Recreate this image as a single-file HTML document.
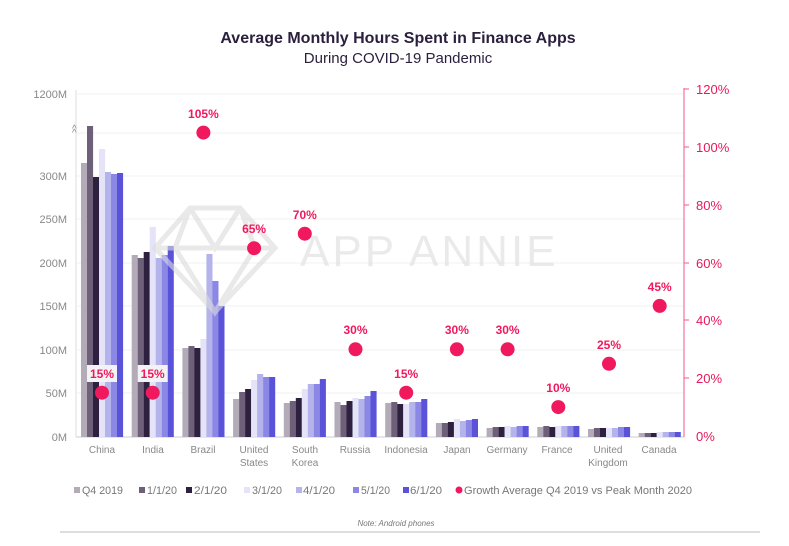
<!DOCTYPE html>
<html><head><meta charset="utf-8"><style>
body{margin:0;background:#fff;}
svg{display:block;font-family:"Liberation Sans",sans-serif;}
.c0{fill:#b3abb8}.c1{fill:#6e6079}.c2{fill:#2e2140}.c3{fill:#e4e3f7}.c4{fill:#b5b3ec}.c5{fill:#8b87e4}.c6{fill:#5a53d9}
.p{fill:#f0195e}
.pl{fill:#f0195e;font-size:12px;font-weight:bold;text-anchor:middle}
</style></head><body>
<svg width="789" height="546" viewBox="0 0 789 546" xmlns="http://www.w3.org/2000/svg">
<rect width="789" height="546" fill="#fff"/>
<text x="398" y="43" text-anchor="middle" font-size="16" font-weight="bold" fill="#2a1f3d">Average Monthly Hours Spent in Finance Apps</text>
<text x="398" y="63" text-anchor="middle" font-size="15" fill="#2a1f3d">During COVID-19 Pandemic</text>
<g stroke="#f0f0f3" stroke-width="1">
<line x1="77" x2="684" y1="94" y2="94"/><line x1="77" x2="684" y1="133" y2="133"/>
<line x1="77" x2="684" y1="176" y2="176"/><line x1="77" x2="684" y1="219" y2="219"/>
<line x1="77" x2="684" y1="263" y2="263"/><line x1="77" x2="684" y1="306" y2="306"/>
<line x1="77" x2="684" y1="350" y2="350"/><line x1="77" x2="684" y1="393" y2="393"/>
</g>
<line x1="76" y1="90" x2="76" y2="437" stroke="#ddd"/>
<line x1="76" y1="437" x2="684" y2="437" stroke="#ccc"/>
<line x1="684" y1="88" x2="684" y2="437" stroke="#f05a87"/>
<g font-size="11" fill="#888" text-anchor="end">
<text x="67" y="98">1200M</text><text x="67" y="180">300M</text><text x="67" y="223">250M</text>
<text x="67" y="267">200M</text><text x="67" y="310">150M</text><text x="67" y="354">100M</text>
<text x="67" y="397">50M</text><text x="67" y="441">0M</text>
</g>
<text x="72" y="136" font-size="10" fill="#888">^</text><text x="72" y="132" font-size="10" fill="#888">^</text>
<g font-size="13" fill="#e8185a">
<text x="696" y="94">120%</text><text x="696" y="152">100%</text><text x="696" y="210">80%</text>
<text x="696" y="268">60%</text><text x="696" y="325">40%</text><text x="696" y="383">20%</text><text x="696" y="441">0%</text>
</g>
<g stroke="#f05a87"><line x1="684" x2="689" y1="89" y2="89"/><line x1="684" x2="689" y1="147" y2="147"/><line x1="684" x2="689" y1="205" y2="205"/><line x1="684" x2="689" y1="263" y2="263"/><line x1="684" x2="689" y1="320" y2="320"/><line x1="684" x2="689" y1="378" y2="378"/></g>

<g transform="translate(81,0)"><rect class="c0" x="0" y="163" width="6.1" height="274"/><rect class="c1" x="6" y="126" width="6.1" height="311"/><rect class="c2" x="12" y="177" width="6.1" height="260"/><rect class="c3" x="18" y="149" width="6.1" height="288"/><rect class="c4" x="24" y="172" width="6.1" height="265"/><rect class="c5" x="30" y="174" width="6.1" height="263"/><rect class="c6" x="36" y="173" width="6.1" height="264"/></g>
<g transform="translate(131.7,0)"><rect class="c0" x="0" y="255" width="6.1" height="182"/><rect class="c1" x="6" y="258" width="6.1" height="179"/><rect class="c2" x="12" y="252" width="6.1" height="185"/><rect class="c3" x="18" y="227" width="6.1" height="210"/><rect class="c4" x="24" y="258" width="6.1" height="179"/><rect class="c5" x="30" y="255" width="6.1" height="182"/><rect class="c6" x="36" y="246" width="6.1" height="191"/></g>
<g transform="translate(182.4,0)"><rect class="c0" x="0" y="348" width="6.1" height="89"/><rect class="c1" x="6" y="346" width="6.1" height="91"/><rect class="c2" x="12" y="348" width="6.1" height="89"/><rect class="c3" x="18" y="339" width="6.1" height="98"/><rect class="c4" x="24" y="254" width="6.1" height="183"/><rect class="c5" x="30" y="281" width="6.1" height="156"/><rect class="c6" x="36" y="306" width="6.1" height="131"/></g>
<g transform="translate(233.1,0)"><rect class="c0" x="0" y="399" width="6.1" height="38"/><rect class="c1" x="6" y="392" width="6.1" height="45"/><rect class="c2" x="12" y="389" width="6.1" height="48"/><rect class="c3" x="18" y="380" width="6.1" height="57"/><rect class="c4" x="24" y="374" width="6.1" height="63"/><rect class="c5" x="30" y="377" width="6.1" height="60"/><rect class="c6" x="36" y="377" width="6.1" height="60"/></g>
<g transform="translate(283.8,0)"><rect class="c0" x="0" y="403" width="6.1" height="34"/><rect class="c1" x="6" y="401" width="6.1" height="36"/><rect class="c2" x="12" y="398" width="6.1" height="39"/><rect class="c3" x="18" y="389" width="6.1" height="48"/><rect class="c4" x="24" y="384" width="6.1" height="53"/><rect class="c5" x="30" y="384" width="6.1" height="53"/><rect class="c6" x="36" y="379" width="6.1" height="58"/></g>
<g transform="translate(334.5,0)"><rect class="c0" x="0" y="402" width="6.1" height="35"/><rect class="c1" x="6" y="405" width="6.1" height="32"/><rect class="c2" x="12" y="401" width="6.1" height="36"/><rect class="c3" x="18" y="398" width="6.1" height="39"/><rect class="c4" x="24" y="399" width="6.1" height="38"/><rect class="c5" x="30" y="396" width="6.1" height="41"/><rect class="c6" x="36" y="391" width="6.1" height="46"/></g>
<g transform="translate(385.2,0)"><rect class="c0" x="0" y="403" width="6.1" height="34"/><rect class="c1" x="6" y="402" width="6.1" height="35"/><rect class="c2" x="12" y="404" width="6.1" height="33"/><rect class="c3" x="18" y="404" width="6.1" height="33"/><rect class="c4" x="24" y="402" width="6.1" height="35"/><rect class="c5" x="30" y="402" width="6.1" height="35"/><rect class="c6" x="36" y="399" width="6.1" height="38"/></g>
<g transform="translate(435.9,0)"><rect class="c0" x="0" y="423" width="6.1" height="14"/><rect class="c1" x="6" y="423" width="6.1" height="14"/><rect class="c2" x="12" y="422" width="6.1" height="15"/><rect class="c3" x="18" y="419" width="6.1" height="18"/><rect class="c4" x="24" y="421" width="6.1" height="16"/><rect class="c5" x="30" y="420" width="6.1" height="17"/><rect class="c6" x="36" y="419" width="6.1" height="18"/></g>
<g transform="translate(486.6,0)"><rect class="c0" x="0" y="428" width="6.1" height="9"/><rect class="c1" x="6" y="427" width="6.1" height="10"/><rect class="c2" x="12" y="427" width="6.1" height="10"/><rect class="c3" x="18" y="426" width="6.1" height="11"/><rect class="c4" x="24" y="427" width="6.1" height="10"/><rect class="c5" x="30" y="426" width="6.1" height="11"/><rect class="c6" x="36" y="426" width="6.1" height="11"/></g>
<g transform="translate(537.3,0)"><rect class="c0" x="0" y="427" width="6.1" height="10"/><rect class="c1" x="6" y="426" width="6.1" height="11"/><rect class="c2" x="12" y="427" width="6.1" height="10"/><rect class="c3" x="18" y="426" width="6.1" height="11"/><rect class="c4" x="24" y="426" width="6.1" height="11"/><rect class="c5" x="30" y="426" width="6.1" height="11"/><rect class="c6" x="36" y="426" width="6.1" height="11"/></g>
<g transform="translate(588,0)"><rect class="c0" x="0" y="429" width="6.1" height="8"/><rect class="c1" x="6" y="428" width="6.1" height="9"/><rect class="c2" x="12" y="428" width="6.1" height="9"/><rect class="c3" x="18" y="428" width="6.1" height="9"/><rect class="c4" x="24" y="428" width="6.1" height="9"/><rect class="c5" x="30" y="427" width="6.1" height="10"/><rect class="c6" x="36" y="427" width="6.1" height="10"/></g>
<g transform="translate(638.7,0)"><rect class="c0" x="0" y="433" width="6.1" height="4"/><rect class="c1" x="6" y="433" width="6.1" height="4"/><rect class="c2" x="12" y="433" width="6.1" height="4"/><rect class="c3" x="18" y="432" width="6.1" height="5"/><rect class="c4" x="24" y="432" width="6.1" height="5"/><rect class="c5" x="30" y="432" width="6.1" height="5"/><rect class="c6" x="36" y="432" width="6.1" height="5"/></g>

<g fill="none" stroke="#dcdcdc" stroke-width="5" opacity="0.6">
<polygon points="155,248 190,208 240,208 275,248 215,312"/>
<line x1="155" y1="248" x2="275" y2="248"/>
<polyline points="190,208 175,248 215,312 255,248 240,208"/>
<polyline points="190,208 215,248 240,208"/>
</g>
<text x="300" y="266" font-size="44" fill="#e6e6e6" opacity="0.8" letter-spacing="3">APP ANNIE</text>

<g font-size="10" fill="#888" text-anchor="middle">
<text x="102" y="453">China</text><text x="153" y="453">India</text><text x="203" y="453">Brazil</text>
<text x="254" y="453">United</text><text x="254" y="466">States</text>
<text x="305" y="453">South</text><text x="305" y="466">Korea</text>
<text x="355" y="453">Russia</text><text x="406" y="453">Indonesia</text><text x="457" y="453">Japan</text>
<text x="507" y="453">Germany</text><text x="557" y="453">France</text>
<text x="608" y="453">United</text><text x="608" y="466">Kingdom</text><text x="659" y="453">Canada</text>
</g>

<rect x="87" y="365" width="30" height="17" fill="#f3f3f5"/>
<rect x="137.7" y="365" width="30" height="17" fill="#f3f3f5"/>
<circle class="p" cx="102" cy="392.7" r="7"/><text class="pl" x="102" y="378">15%</text>
<circle class="p" cx="152.7" cy="392.7" r="7"/><text class="pl" x="152.7" y="378">15%</text>
<circle class="p" cx="203.4" cy="132.6" r="7"/><text class="pl" x="203.4" y="118">105%</text>
<circle class="p" cx="254.1" cy="248.2" r="7"/><text class="pl" x="254.1" y="233">65%</text>
<circle class="p" cx="304.8" cy="233.7" r="7"/><text class="pl" x="304.8" y="219">70%</text>
<circle class="p" cx="355.5" cy="349.3" r="7"/><text class="pl" x="355.5" y="334">30%</text>
<circle class="p" cx="406.2" cy="392.7" r="7"/><text class="pl" x="406.2" y="378">15%</text>
<circle class="p" cx="456.9" cy="349.3" r="7"/><text class="pl" x="456.9" y="334">30%</text>
<circle class="p" cx="507.6" cy="349.3" r="7"/><text class="pl" x="507.6" y="334">30%</text>
<circle class="p" cx="558.3" cy="407.1" r="7"/><text class="pl" x="558.3" y="392">10%</text>
<circle class="p" cx="609" cy="363.8" r="7"/><text class="pl" x="609" y="349">25%</text>
<circle class="p" cx="659.7" cy="305.9" r="7"/><text class="pl" x="659.7" y="291">45%</text>

<g font-size="11" fill="#777">
<rect x="74" y="487" width="6" height="6" class="c0"/><text x="82" y="494" textLength="41" lengthAdjust="spacingAndGlyphs">Q4 2019</text>
<rect x="139" y="487" width="6" height="6" class="c1"/><text x="147" y="494" textLength="30" lengthAdjust="spacingAndGlyphs">1/1/20</text>
<rect x="186" y="487" width="6" height="6" class="c2"/><text x="194" y="494" textLength="33" lengthAdjust="spacingAndGlyphs">2/1/20</text>
<rect x="244" y="487" width="6" height="6" class="c3"/><text x="252" y="494" textLength="30" lengthAdjust="spacingAndGlyphs">3/1/20</text>
<rect x="296" y="487" width="6" height="6" class="c4"/><text x="303" y="494" textLength="32" lengthAdjust="spacingAndGlyphs">4/1/20</text>
<rect x="353" y="487" width="6" height="6" class="c5"/><text x="361" y="494" textLength="29" lengthAdjust="spacingAndGlyphs">5/1/20</text>
<rect x="403" y="487" width="6" height="6" class="c6"/><text x="410" y="494" textLength="32" lengthAdjust="spacingAndGlyphs">6/1/20</text>
<circle cx="459" cy="490" r="3.5" class="p"/><text x="464" y="494" textLength="228" lengthAdjust="spacingAndGlyphs">Growth Average Q4 2019 vs Peak Month 2020</text>
</g>
<text x="396" y="526" font-size="8" font-style="italic" fill="#777" text-anchor="middle">Note: Android phones</text>
<line x1="60" y1="532" x2="760" y2="532" stroke="#bbb" stroke-width="1"/>
</svg>
</body></html>
